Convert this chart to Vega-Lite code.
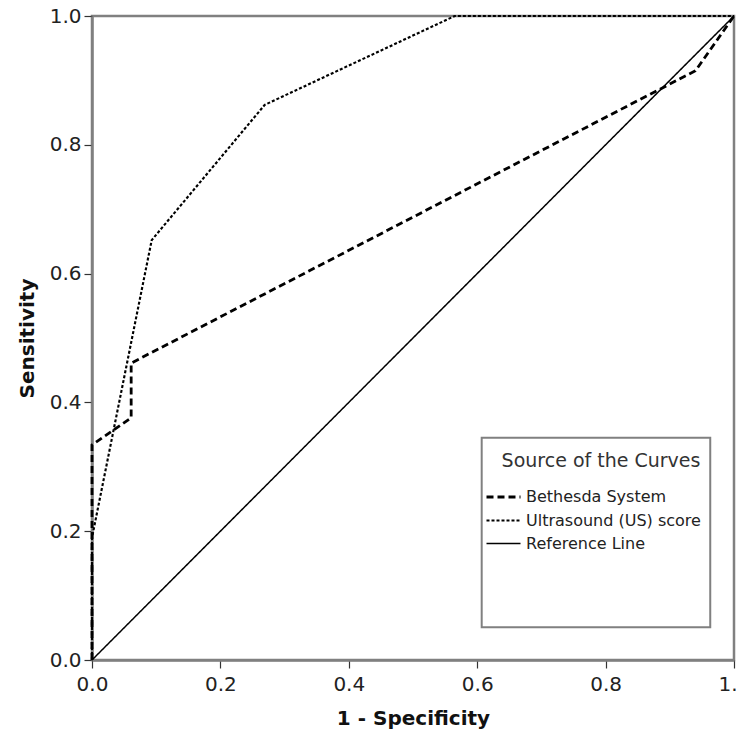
{
  "$schema": "https://vega.github.io/schema/vega-lite/v6.json",
  "width": 642,
  "height": 644,
  "autosize": {"type": "none"},
  "padding": {"left": 92, "top": 16, "right": 2, "bottom": 80},
  "background": "white",
  "config": {
    "view": {"stroke": "#808080", "strokeWidth": 2.5},
    "font": "DejaVu Sans",
    "axis": {
      "domainColor": "#808080",
      "domainWidth": 2.5,
      "tickColor": "#333333",
      "tickWidth": 1.2,
      "tickSize": 8,
      "labelFontSize": 20,
      "labelColor": "#222222",
      "labelFont": "DejaVu Sans",
      "titleFont": "DejaVu Sans",
      "titleFontSize": 20,
      "titleFontWeight": "bold",
      "titleColor": "#111111",
      "grid": false,
      "labelFlush": false
    }
  },
  "datasets": {
    "curves": [
      {"series": "Bethesda System", "ord": 1, "fpr": 0.0, "tpr": 0.0},
      {"series": "Bethesda System", "ord": 2, "fpr": 0.0, "tpr": 0.334},
      {"series": "Bethesda System", "ord": 3, "fpr": 0.061, "tpr": 0.376},
      {"series": "Bethesda System", "ord": 4, "fpr": 0.061, "tpr": 0.461},
      {"series": "Bethesda System", "ord": 5, "fpr": 0.94, "tpr": 0.915},
      {"series": "Bethesda System", "ord": 6, "fpr": 1.0, "tpr": 1.0},
      {"series": "Ultrasound (US) score", "ord": 1, "fpr": 0.0, "tpr": 0.0},
      {"series": "Ultrasound (US) score", "ord": 2, "fpr": 0.0, "tpr": 0.19},
      {"series": "Ultrasound (US) score", "ord": 3, "fpr": 0.093, "tpr": 0.652},
      {"series": "Ultrasound (US) score", "ord": 4, "fpr": 0.269, "tpr": 0.862},
      {"series": "Ultrasound (US) score", "ord": 5, "fpr": 0.565, "tpr": 1.0},
      {"series": "Ultrasound (US) score", "ord": 6, "fpr": 1.0, "tpr": 1.0},
      {"series": "Reference Line", "ord": 1, "fpr": 0.0, "tpr": 0.0},
      {"series": "Reference Line", "ord": 2, "fpr": 1.0, "tpr": 1.0}
    ]
  },
  "layer": [
    {
      "data": {"values": [{}]},
      "mark": {"type": "rect", "fill": "white", "stroke": "#808080", "strokeWidth": 2},
      "encoding": {
        "x": {"datum": 0.607, "type": "quantitative", "title": "1 - Specificity"},
        "x2": {"datum": 0.963},
        "y": {"datum": 0.051, "type": "quantitative", "title": "Sensitivity"},
        "y2": {"datum": 0.345}
      }
    },
    {
      "data": {"name": "curves"},
      "mark": {"type": "line", "color": "black", "clip": false},
      "encoding": {
        "x": {
          "field": "fpr",
          "type": "quantitative",
          "title": "1 - Specificity",
          "scale": {"domain": [0, 1], "nice": false},
          "axis": {"values": [0, 0.2, 0.4, 0.6, 0.8, 1], "format": ".1f", "labelPadding": 6, "titlePadding": 14}
        },
        "y": {
          "field": "tpr",
          "type": "quantitative",
          "title": "Sensitivity",
          "scale": {"domain": [0, 1], "nice": false},
          "axis": {"values": [0, 0.2, 0.4, 0.6, 0.8, 1], "format": ".1f", "labelPadding": 3, "titlePadding": 12}
        },
        "order": {"field": "ord", "type": "quantitative"},
        "strokeDash": {
          "field": "series",
          "type": "nominal",
          "scale": {
            "domain": ["Bethesda System", "Ultrasound (US) score", "Reference Line"],
            "range": [[7, 4], [3, 2], [1, 0]]
          },
          "legend": {
            "orient": "none",
            "legendX": 410,
            "legendY": 436,
            "title": "Source of the Curves",
            "titleFontSize": 19,
            "titleFontWeight": "normal",
            "titleColor": "#333333",
            "titleAnchor": "middle",
            "titlePadding": 16,
            "titleLimit": 400,
            "labelFontSize": 16,
            "labelColor": "#222222",
            "labelLimit": 400,
            "symbolType": "M-3,0H1",
            "symbolSize": 289,
            "symbolStrokeColor": "black",
            "labelOffset": 4,
            "rowPadding": 5.5,
            "padding": 0
          }
        },
        "strokeWidth": {
          "field": "series",
          "type": "nominal",
          "scale": {
            "domain": ["Bethesda System", "Ultrasound (US) score", "Reference Line"],
            "range": [2.8, 1.5, 1.6]
          },
          "legend": {
            "orient": "none",
            "legendX": 410,
            "legendY": 436,
            "title": "Source of the Curves",
            "titleLimit": 400,
            "labelLimit": 400
          }
        }
      }
    }
  ]
}
